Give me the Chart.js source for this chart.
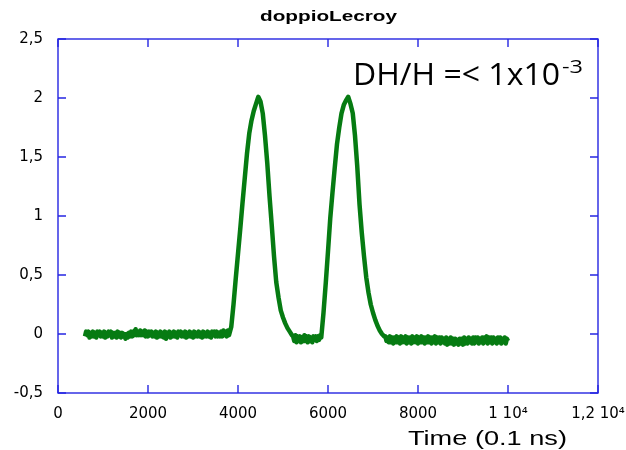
<!DOCTYPE html>
<html>
<head>
<meta charset="utf-8">
<script src="https://cdn.jsdelivr.net/npm/chart.js@4"></script>
<style>
  html, body { margin: 0; padding: 0; background: #fff; }
  #wrap { width: 626px; height: 450px; }
</style>
</head>
<body>
<div id="wrap"><canvas id="chartScope"></canvas></div>
<script>
// time samples (0.1 ns units)
const timeSamples = [
  // baseline before first pulse
  600, 625, 650, 675, 700, 725, 750, 775, 800, 825, 850, 875, 900, 925, 950, 975,
  1000, 1025, 1050, 1075, 1100, 1125, 1150, 1175, 1200, 1225, 1250, 1275, 1300, 1325, 1350, 1375,
  1400, 1425, 1450, 1475, 1500, 1525, 1550, 1575, 1600, 1625, 1650, 1675, 1700, 1725, 1750, 1775,
  1800, 1825, 1850, 1875, 1900, 1925, 1950, 1975, 2000, 2025, 2050, 2075, 2100, 2125, 2150, 2175,
  2200, 2225, 2250, 2275, 2300, 2325, 2350, 2375, 2400, 2425, 2450, 2475, 2500, 2525, 2550, 2575,
  2600, 2625, 2650, 2675, 2700, 2725, 2750, 2775, 2800, 2825, 2850, 2875, 2900, 2925, 2950, 2975,
  3000, 3025, 3050, 3075, 3100, 3125, 3150, 3175, 3200, 3225, 3250, 3275, 3300, 3325, 3350, 3375,
  3400, 3425, 3450, 3475, 3500, 3525, 3550, 3575, 3600, 3625, 3650, 3675, 3700, 3725, 3750, 3775,
  3800,
  // first pulse
  3850, 3900, 3950, 4000, 4050, 4100, 4150, 4200, 4250, 4300, 4350, 4400, 4450, 4500, 4550,
  4600, 4650, 4700, 4750, 4800, 4850, 4900, 4950, 5000, 5050, 5100, 5150, 5200,
  // gap
  5225, 5250, 5275, 5300, 5325, 5350, 5375, 5400, 5425, 5450, 5475, 5500, 5525,
  5550, 5575, 5600, 5625, 5650, 5675, 5700, 5725, 5750, 5775, 5800, 5825, 5850,
  // second pulse
  5900, 5950, 6000, 6050, 6100, 6150, 6200, 6250, 6300, 6350, 6400, 6450, 6500, 6550, 6600,
  6650, 6700, 6750, 6800, 6850, 6900, 6950, 7000, 7050, 7100, 7150, 7200, 7250,
  // tail
  7275, 7300, 7325, 7350, 7375, 7400, 7425, 7450, 7475, 7500, 7525, 7550, 7575, 7600, 7625, 7650,
  7675, 7700, 7725, 7750, 7775, 7800, 7825, 7850, 7875, 7900, 7925, 7950, 7975, 8000, 8025, 8050,
  8075, 8100, 8125, 8150, 8175, 8200, 8225, 8250, 8275, 8300, 8325, 8350, 8375, 8400, 8425, 8450,
  8475, 8500, 8525, 8550, 8575, 8600, 8625, 8650, 8675, 8700, 8725, 8750, 8775, 8800, 8825, 8850,
  8875, 8900, 8925, 8950, 8975, 9000, 9025, 9050, 9075, 9100, 9125, 9150, 9175, 9200, 9225, 9250,
  9275, 9300, 9325, 9350, 9375, 9400, 9425, 9450, 9475, 9500, 9525, 9550, 9575, 9600, 9625, 9650,
  9675, 9700, 9725, 9750, 9775, 9800, 9825, 9850, 9875, 9900, 9925, 9950, 9975, 10000
];

// scope signal (V)
const signal = [
  // baseline before first pulse
  -0.02, 0.02, -0.01, 0.02, -0.03, 0.01, -0.02, 0.02, -0.02, 0.01, -0.03, 0.02, -0.01, 0.02, -0.02, 0.01,
  -0.02, 0.02, -0.03, 0.01, -0.02, 0.02, -0.01, 0.02, -0.03, 0.01, -0.02, 0.01, -0.03, 0.02, -0.02, 0.01,
  -0.03, 0.01, -0.02, 0.00, -0.04, 0.00, -0.03, 0.01, -0.02, 0.02, -0.02, 0.02, -0.01, 0.04, -0.01, 0.02,
  -0.01, 0.03, -0.01, 0.02, -0.01, 0.03, -0.02, 0.02, -0.02, 0.02, -0.01, 0.02, -0.02, 0.01, -0.02, 0.02,
  -0.03, 0.01, -0.02, 0.02, -0.02, 0.01, -0.03, 0.02, -0.04, 0.01, -0.02, 0.02, -0.03, 0.01, -0.02, 0.02,
  -0.02, 0.01, -0.03, 0.02, -0.01, 0.02, -0.02, 0.01, -0.02, 0.02, -0.03, 0.01, -0.02, 0.02, -0.02, 0.01,
  -0.03, 0.02, -0.02, 0.01, -0.02, 0.02, -0.02, 0.01, -0.03, 0.02, -0.02, 0.01, -0.02, 0.02, -0.02, 0.01,
  -0.03, 0.02, -0.01, 0.02, -0.02, 0.02, -0.02, 0.01, -0.02, 0.02, -0.02, 0.03, -0.01, 0.02, -0.02, 0.03,
  -0.01,
  // first pulse
  0.06, 0.25, 0.47, 0.68, 0.89, 1.11, 1.32, 1.53, 1.70, 1.81, 1.89, 1.95, 2.01, 1.97, 1.87,
  1.68, 1.45, 1.17, 0.92, 0.66, 0.44, 0.31, 0.20, 0.14, 0.09, 0.05, 0.02, -0.01,
  // gap
  -0.02, -0.06, -0.01, -0.07, -0.02, -0.06, -0.02, -0.07, -0.03, -0.06, -0.01, -0.06, -0.02,
  -0.07, -0.02, -0.06, -0.03, -0.07, -0.02, -0.05, -0.02, -0.06, -0.02, -0.05, -0.01, -0.03,
  // second pulse
  0.18, 0.43, 0.70, 0.98, 1.20, 1.41, 1.61, 1.75, 1.87, 1.94, 1.98, 2.01, 1.95, 1.87, 1.68,
  1.42, 1.10, 0.86, 0.66, 0.48, 0.35, 0.25, 0.18, 0.12, 0.07, 0.03, 0.00, -0.02,
  // tail
  -0.02, -0.06, -0.03, -0.07, -0.02, -0.07, -0.03, -0.08, -0.03, -0.07, -0.02, -0.07, -0.03, -0.08, -0.02, -0.07,
  -0.03, -0.07, -0.02, -0.08, -0.03, -0.07, -0.03, -0.08, -0.02, -0.07, -0.03, -0.07, -0.02, -0.08, -0.03, -0.07,
  -0.02, -0.07, -0.03, -0.08, -0.03, -0.07, -0.02, -0.07, -0.03, -0.08, -0.03, -0.07, -0.02, -0.08, -0.03, -0.07,
  -0.03, -0.08, -0.03, -0.07, -0.04, -0.08, -0.03, -0.09, -0.04, -0.08, -0.03, -0.08, -0.04, -0.09, -0.04, -0.08,
  -0.05, -0.09, -0.04, -0.08, -0.04, -0.09, -0.03, -0.08, -0.04, -0.08, -0.03, -0.07, -0.04, -0.08, -0.03, -0.08,
  -0.03, -0.07, -0.03, -0.08, -0.04, -0.07, -0.03, -0.08, -0.03, -0.07, -0.02, -0.08, -0.03, -0.07, -0.03, -0.08,
  -0.03, -0.07, -0.04, -0.08, -0.03, -0.07, -0.03, -0.08, -0.04, -0.07, -0.03, -0.08, -0.04, -0.06
];

const xTicks = [0, 2000, 4000, 6000, 8000, 10000, 12000];
const xTickLabels = ["0", "2000", "4000", "6000", "8000", "1 10\u2074", "1,2 10\u2074"];
const yTicks = [-0.5, 0, 0.5, 1, 1.5, 2, 2.5];
const yTickLabels = ["-0,5", "0", "0,5", "1", "1,5", "2", "2,5"];

const AXIS_BLUE = "#2626e2";
const TRACE_GREEN = "#067b12";

// draw text squeezed/stretched horizontally to a given width
function drawWide(ctx, text, x, y, width, font) {
    ctx.save();
    ctx.font = font;
    const w = ctx.measureText(text).width;
    ctx.translate(x, y);
    ctx.scale(width / w, 1);
    ctx.fillText(text, 0, 0);
    ctx.restore();
}

// box frame with inward tick marks on all four sides
const framePlugin = {
    id: "frame",
    afterDatasetsDraw(chart) {
        const { ctx, chartArea: a, scales } = chart;
        const len = 8;
        ctx.save();
        ctx.strokeStyle = AXIS_BLUE;
        ctx.lineWidth = 1.4;
        ctx.strokeRect(a.left, a.top, a.right - a.left, a.bottom - a.top);
        ctx.beginPath();
        xTicks.forEach(v => {
            const px = scales.x.getPixelForValue(v);
            ctx.moveTo(px, a.bottom); ctx.lineTo(px, a.bottom - len);
            ctx.moveTo(px, a.top); ctx.lineTo(px, a.top + len);
        });
        yTicks.forEach(v => {
            const py = scales.y.getPixelForValue(v);
            ctx.moveTo(a.left, py); ctx.lineTo(a.left + len, py);
            ctx.moveTo(a.right, py); ctx.lineTo(a.right - len, py);
        });
        ctx.stroke();
        ctx.restore();
    },
    afterDraw(chart) {
        const { ctx, chartArea: a } = chart;
        ctx.save();
        ctx.fillStyle = "#000";
        ctx.textBaseline = "alphabetic";
        // title
        drawWide(ctx, "doppioLecroy", a.left + 202, 21, 137, "bold 14px 'Liberation Sans'");
        // annotation
        drawWide(ctx, "DH/H =< 1x10", a.left + 295, 85, 207, "31px 'Open Sans'");
        drawWide(ctx, "-3", a.left + 504, 73, 21, "19px 'Open Sans'");
        // x axis title
        drawWide(ctx, "Time (0.1 ns)", a.left + 350, 445, 159, "20px 'Liberation Sans'");
        ctx.restore();
    }
};

new Chart(document.getElementById("chartScope"), {
    type: "line",
    data: {
        datasets: [{
            label: "doppioLecroy",
            data: timeSamples.map((t, i) => ({ x: t, y: signal[i] })),
            borderColor: TRACE_GREEN,
            borderWidth: 4.5,
            borderJoinStyle: "round",
            pointRadius: 0,
            tension: 0
        }]
    },
    options: {
        responsive: true,
        maintainAspectRatio: false,
        animation: false,
        events: [],
        layout: { padding: { top: 39, right: 28, left: 0, bottom: 0 } },
        plugins: {
            legend: { display: false },
            title: { display: false },
            tooltip: { enabled: false }
        },
        scales: {
            x: {
                type: "linear",
                min: 0,
                max: 12000,
                afterBuildTicks: s => { s.ticks = xTicks.map(v => ({ value: v })); },
                afterFit: s => { s.height = 57; s.paddingLeft = 0; s.paddingRight = 0; },
                grid: { display: false, drawTicks: false },
                border: { display: false },
                ticks: {
                    autoSkip: false,
                    maxRotation: 0,
                    padding: 12,
                    color: "#000",
                    font: { family: "'DejaVu Sans'", size: 15 },
                    callback: v => xTickLabels[xTicks.indexOf(v)]
                }
            },
            y: {
                type: "linear",
                min: -0.5,
                max: 2.5,
                afterBuildTicks: s => { s.ticks = yTicks.map(v => ({ value: v })); },
                afterFit: s => { s.width = 58; s.paddingTop = 0; s.paddingBottom = 0; },
                grid: { display: false, drawTicks: false },
                border: { display: false },
                ticks: {
                    padding: 15,
                    color: "#000",
                    font: { family: "'DejaVu Sans'", size: 15 },
                    callback: v => yTickLabels[yTicks.indexOf(v)]
                }
            }
        }
    },
    plugins: [framePlugin]
});
</script>
</body>
</html>
